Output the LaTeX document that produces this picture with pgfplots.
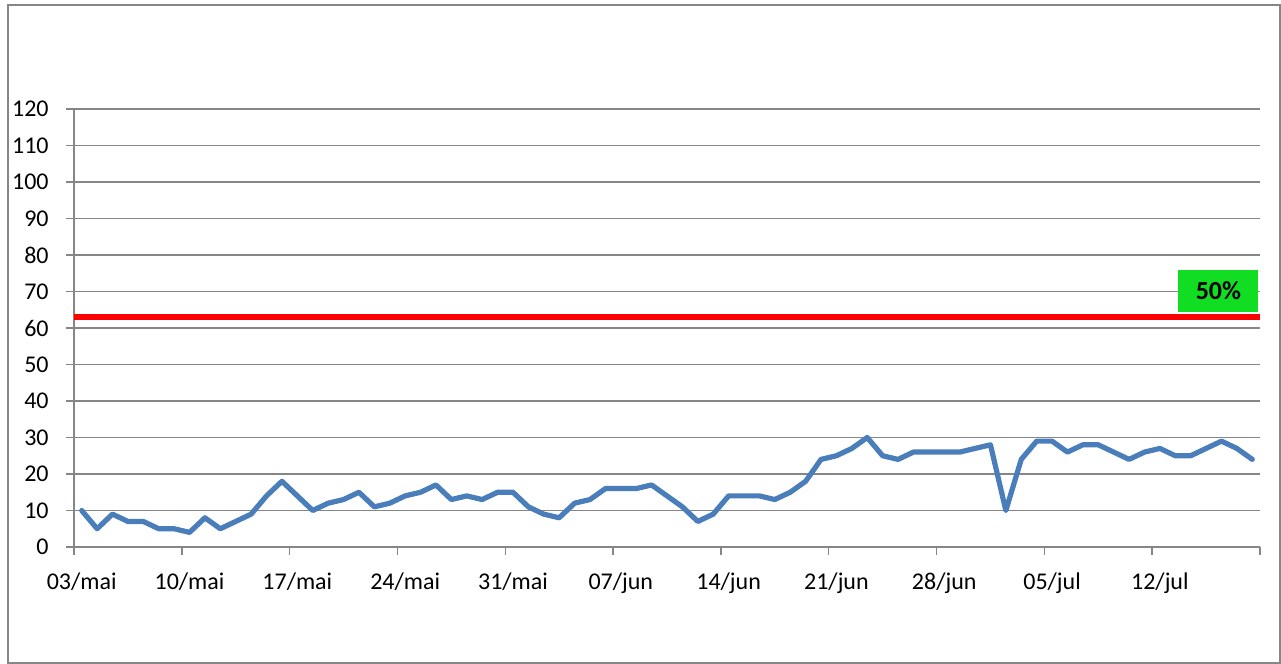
\documentclass[border=0pt]{standalone}
\usepackage{fontspec}
\setmainfont{Carlito}
\usepackage{pgfplots}
\pgfplotsset{compat=1.18}
\definecolor{gridgray}{HTML}{868686}
\definecolor{lineblue}{HTML}{4A7EBB}
\definecolor{boxgreen}{HTML}{11DD22}
\begin{document}
\fontsize{12}{14}\selectfont
\begin{tikzpicture}
\path[use as bounding box] (0,0) rectangle (640.5pt,332pt);
\draw[gridgray, line width=1pt] (4pt,0.5pt) rectangle (640pt,329.5pt);
\begin{axis}[
  at={(37pt,58.5pt)}, anchor=south west,
  scale only axis, width=593pt, height=219pt,
  xmin=-0.5, xmax=76.5, ymin=0, ymax=120,
  axis lines*=left,
  axis line style={gridgray, line width=0.7pt},
  ytick={0,10,...,120},
  ymajorgrids, grid style={gridgray, line width=0.7pt},
  xtick={-0.5,6.5,...,76.5}, xticklabels={},
  tick align=outside, major tick length=4pt,
  tick style={gridgray, line width=0.7pt},
  extra x ticks={0,7,...,70},
  extra x tick labels={03/mai,10/mai,17/mai,24/mai,31/mai,07/jun,14/jun,21/jun,28/jun,05/jul,12/jul},
  extra x tick style={major tick length=0pt, grid=none, xticklabel style={yshift=-8.5pt}},
  yticklabel style={xshift=-4.5pt},
  tick label style={font=\fontsize{12}{14}\selectfont, text=black},
  /pgf/number format/assume math mode=true,
  clip=false,
]
\addplot[red, line width=2.6pt] coordinates {(-0.5,63) (76.5,63)};
\addplot[lineblue, line width=2.6pt, line join=round, line cap=round] coordinates {
(0,10)(1,5)(2,9)(3,7)(4,7)(5,5)(6,5)(7,4)(8,8)(9,5)(10,7)(11,9)(12,14)(13,18)(14,14)(15,10)(16,12)(17,13)(18,15)(19,11)
(20,12)(21,14)(22,15)(23,17)(24,13)(25,14)(26,13)(27,15)(28,15)(29,11)(30,9)(31,8)(32,12)(33,13)(34,16)(35,16)(36,16)(37,17)(38,14)(39,11)
(40,7)(41,9)(42,14)(43,14)(44,14)(45,13)(46,15)(47,18)(48,24)(49,25)(50,27)(51,30)(52,25)(53,24)(54,26)(55,26)(56,26)(57,26)(58,27)(59,28)
(60,10)(61,24)(62,29)(63,29)(64,26)(65,28)(66,28)(67,26)(68,24)(69,26)(70,27)(71,25)(72,25)(73,27)(74,29)(75,27)(76,24)
};
\node[fill=boxgreen, minimum width=40pt, minimum height=21pt, inner sep=0pt, font=\fontsize{13}{15}\selectfont\bfseries] at (axis cs:73.8,70.1) {50\%};
\end{axis}
\end{tikzpicture}
\end{document}
